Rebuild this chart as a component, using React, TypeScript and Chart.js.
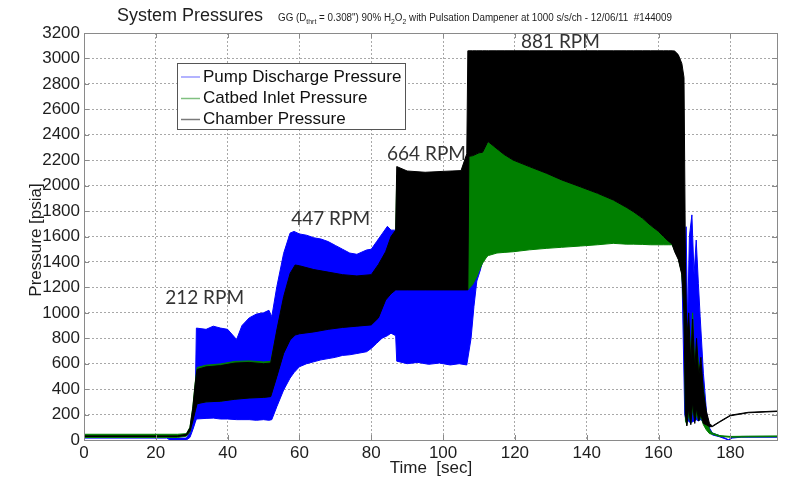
import React, { useEffect, useRef } from "react";
import { Chart, registerables } from "chart.js";

Chart.register(...registerables);

// ---------- data ----------
const xTicks = [0, 20, 40, 60, 80, 100, 120, 140, 160, 180];
const yTicks = [0, 200, 400, 600, 800, 1000, 1200, 1400, 1600, 1800, 2000, 2200, 2400, 2600, 2800, 3000, 3200];

const seriesNames = ["Pump Discharge Pressure", "Catbed Inlet Pressure", "Chamber Pressure"];

// Pump discharge pressure envelope (max / min of the oscillating signal)
const pumpTime = [0, 23, 24, 28.5, 29.5, 30.3, 31.0, 31.3, 34, 36, 38, 40, 42.5, 44, 46, 48, 50, 51.5, 52.3, 53.7, 55.6, 57.4, 58.5, 60, 62, 64, 66, 68, 70, 72, 74, 76, 78.7, 80, 81.5, 83, 84.5, 85.5, 86.8, 87.1, 90, 93, 96, 99, 102, 104.5, 106.6, 107.8, 108.6, 109.4, 110.2, 113, 120, 130, 140, 150, 158, 161, 163, 165, 166.5, 167.3, 167.7, 168.1, 168.6, 169.3, 169.9, 170.5, 171.1, 171.6, 172.5, 173.4, 174.3, 175, 177, 179.5, 180.5, 183, 193];
const pumpHigh = [22, 22, 15, 15, 60, 180, 350, 880, 870, 895, 880, 870, 790, 900, 960, 990, 1000, 1020, 970, 1205, 1468, 1627, 1640, 1620, 1610, 1590, 1580, 1560, 1530, 1500, 1470, 1460, 1494, 1500, 1560, 1620, 1680, 1650, 1650, 1180, 1180, 1180, 1180, 1180, 1180, 1180, 1180, 1230, 1260, 1284, 1330, 1900, 1900, 1900, 1800, 1700, 1600, 1580, 1600, 1800, 2000, 1300, 1677, 900, 1600, 1770, 1300, 1572, 1232, 970, 525, 210, 90, 55, 35, 2, 22, 28, 28];
const pumpLow = [15, 15, 0, 0, 20, 80, 140, 165, 170, 172, 165, 165, 160, 160, 160, 155, 160, 155, 160, 262, 393, 487, 530, 576, 600, 615, 630, 640, 650, 665, 670, 680, 694, 720, 760, 800, 820, 840, 820, 620, 600, 610, 595, 605, 590, 600, 590, 800, 1050, 1250, 1320, 1600, 1600, 1600, 1600, 1600, 1580, 1560, 1560, 1500, 1350, 200, 150, 160, 140, 140, 150, 160, 150, 160, 150, 110, 60, 40, 25, 0, 15, 22, 22];

// Catbed inlet and chamber pressure envelopes share one time base
const ccTime = [0, 26, 28.5, 29.5, 30.3, 31, 31.5, 34, 38, 42, 46, 50, 52, 53.7, 55.6, 57.4, 58.8, 60, 64, 68, 72, 76, 80, 82, 84, 85.5, 86.8, 87.1, 90, 95, 100, 105, 106.6, 106.9, 107.2, 108.2, 109.4, 110, 111, 112.2, 112.6, 115, 117, 119.5, 124, 128.9, 133, 138.2, 143, 147.4, 151, 153, 155.5, 157.7, 160, 161.4, 162.7, 163.8, 164.5, 165.5, 166.5, 167.1, 167.5, 167.9, 168.4, 169, 169.5, 170.1, 170.6, 171.2, 171.8, 172.5, 173.3, 174.2, 175, 177, 180, 185, 193];
const catbedHigh = [45, 45, 50, 100, 260, 460, 570, 588, 598, 618, 622, 614, 618, 850, 1100, 1290, 1360, 1350, 1320, 1300, 1280, 1270, 1280, 1350, 1450, 1570, 1620, 2080, 2080, 2070, 2075, 2080, 2200, 2227, 2230, 2235, 2250, 2258, 2262, 2330, 2345, 2290, 2245, 2201, 2150, 2096, 2045, 1991, 1940, 1887, 1830, 1795, 1745, 1690, 1640, 1600, 1565, 1540, 1500, 1440, 1320, 1050, 1100, 700, 900, 700, 1000, 600, 750, 600, 550, 400, 200, 80, 55, 35, 28, 30, 32];
const catbedLow = [20, 20, 30, 60, 160, 240, 290, 300, 305, 322, 332, 336, 348, 510, 690, 800, 840, 850, 865, 880, 895, 905, 915, 970, 1110, 1160, 1190, 1200, 1200, 1200, 1200, 1200, 1200, 1180, 1190, 1220, 1284, 1330, 1390, 1441, 1450, 1470, 1475, 1480, 1495, 1507, 1515, 1525, 1535, 1546, 1540, 1540, 1538, 1535, 1535, 1535, 1535, 1535, 1490, 1430, 1310, 1020, 150, 120, 200, 130, 250, 150, 200, 150, 180, 120, 80, 50, 45, 28, 22, 24, 26];
const chamberHigh = [32, 32, 45, 95, 250, 450, 555, 575, 585, 605, 610, 600, 605, 865, 1127, 1310, 1376, 1370, 1340, 1320, 1300, 1290, 1300, 1380, 1480, 1600, 1650, 2150, 2115, 2105, 2112, 2118, 2250, 3060, 3060, 3060, 3060, 3060, 3060, 3060, 3060, 3060, 3060, 3060, 3060, 3060, 3060, 3060, 3060, 3060, 3060, 3060, 3060, 3060, 3060, 3060, 3060, 3060, 3058, 3030, 2960, 2850, 1400, 800, 1000, 600, 950, 550, 800, 500, 650, 380, 230, 130, 110, 145, 195, 218, 228];
const chamberLow = [28, 28, 35, 70, 150, 230, 285, 300, 305, 320, 330, 335, 341, 498, 681, 786, 825, 835, 850, 870, 885, 895, 905, 960, 1100, 1150, 1180, 1180, 1180, 1180, 1180, 1180, 1180, 1180, 2230, 2235, 2250, 2258, 2262, 2330, 2345, 2290, 2245, 2201, 2150, 2096, 2045, 1991, 1940, 1887, 1830, 1795, 1745, 1690, 1640, 1600, 1565, 1540, 1480, 1420, 1300, 1000, 200, 110, 250, 120, 300, 130, 250, 150, 200, 130, 120, 105, 105, 140, 190, 214, 224];

// RPM annotations (text start at time / pressure)
const rpmLabels = ["212 RPM", "447 RPM", "664 RPM", "881 RPM"];
const rpmTime = [22.6, 57.7, 84.4, 121.7];
const rpmPressure = [1116, 1737, 2248, 3129];

// ---------- styles ----------
const FONT = '"Liberation Sans", Arial, Helvetica, sans-serif';
const BLUE = "#0000ff";
const GREEN = "#007f00";
const BLACK = "#000000";
const GRID = "#a8a8a8";
const TEXT = "#1e1e1e";

const pts = (t: number[], v: number[]) => t.map((x, i) => ({ x, y: v[i] }));

const band = (color: string, fill: boolean | string, order: number, data: any) => ({
  data,
  borderColor: color,
  backgroundColor: color,
  borderWidth: 1,
  pointRadius: 0,
  tension: 0,
  fill,
  order,
});

const decor = {
  id: "decor",
  afterDraw(chart: any) {
    const { ctx, chartArea: a, scales } = chart;
    const xs = scales.x;
    const ys = scales.y;
    ctx.save();
    ctx.setLineDash([]);
    // frame
    ctx.strokeStyle = "#8a8a8a";
    ctx.lineWidth = 1;
    ctx.strokeRect(Math.round(a.left) + 0.5, Math.round(a.top) + 0.5, Math.round(a.width), Math.round(a.height));
    // inward tick marks
    ctx.beginPath();
    xTicks.forEach((v) => {
      const px = Math.round(xs.getPixelForValue(v)) + 0.5;
      ctx.moveTo(px, a.bottom);
      ctx.lineTo(px, a.bottom - 5);
      ctx.moveTo(px, a.top);
      ctx.lineTo(px, a.top + 5);
    });
    yTicks.forEach((v) => {
      const py = Math.round(ys.getPixelForValue(v)) + 0.5;
      ctx.moveTo(a.left, py);
      ctx.lineTo(a.left + 5, py);
      ctx.moveTo(a.right, py);
      ctx.lineTo(a.right - 5, py);
    });
    ctx.stroke();

    // title
    ctx.fillStyle = TEXT;
    ctx.textBaseline = "alphabetic";
    ctx.textAlign = "left";
    ctx.font = `18px ${FONT}`;
    ctx.fillText("System Pressures", 117, 21);

    // subtitle with subscripts, fitted to its width
    const parts: [string, boolean][] = [
      ["GG (D", false],
      ["thrt", true],
      [' = 0.308") 90% H', false],
      ["2", true],
      ["O", false],
      ["2", true],
      [" with Pulsation Dampener at 1000 s/s/ch - 12/06/11  #144009", false],
    ];
    const mainF = `10px ${FONT}`;
    const subF = `7px ${FONT}`;
    let total = 0;
    parts.forEach(([s, sub]) => {
      ctx.font = sub ? subF : mainF;
      total += ctx.measureText(s).width;
    });
    const sx = 394 / total;
    ctx.save();
    ctx.translate(278, 21);
    ctx.scale(sx, 1);
    let cx = 0;
    parts.forEach(([s, sub]) => {
      ctx.font = sub ? subF : mainF;
      ctx.fillText(s, cx, sub ? 2.5 : 0);
      cx += ctx.measureText(s).width;
    });
    ctx.restore();

    // axis titles
    ctx.font = `17px ${FONT}`;
    ctx.textAlign = "center";
    ctx.textBaseline = "middle";
    ctx.fillText("Time  [sec]", 431, 468);
    ctx.save();
    ctx.translate(36, 240);
    ctx.rotate(-Math.PI / 2);
    ctx.fillText("Pressure [psia]", 0, 0);
    ctx.restore();

    // legend
    const lx = 177, ly = 63, lw = 228, lh = 66;
    ctx.fillStyle = "#ffffff";
    ctx.fillRect(lx, ly, lw, lh);
    ctx.strokeStyle = "#555555";
    ctx.strokeRect(lx + 0.5, ly + 0.5, lw, lh);
    const swatch = ["#9a9aff", "#80c080", "#7a7a7a"];
    const rows = [77, 98.5, 119.5];
    ctx.textAlign = "left";
    ctx.textBaseline = "middle";
    ctx.font = `17px ${FONT}`;
    seriesNames.forEach((name, i) => {
      ctx.strokeStyle = swatch[i];
      ctx.lineWidth = 1.5;
      ctx.beginPath();
      ctx.moveTo(181, rows[i]);
      ctx.lineTo(200, rows[i]);
      ctx.stroke();
      ctx.fillStyle = "#111111";
      ctx.fillText(name, 203, rows[i]);
    });

    // RPM annotations
    ctx.fillStyle = "#333333";
    ctx.font = `19px Lato, "Open Sans", sans-serif`;
    ctx.textAlign = "left";
    ctx.textBaseline = "middle";
    rpmLabels.forEach((lab, i) => {
      ctx.fillText(lab, xs.getPixelForValue(rpmTime[i]), ys.getPixelForValue(rpmPressure[i]));
    });
    ctx.restore();
  },
};

export default function App() {
  const ref = useRef<HTMLCanvasElement>(null);
  useEffect(() => {
    const chart = new Chart(ref.current as HTMLCanvasElement, {
      type: "line",
      data: {
        datasets: [
          band(BLUE, false, 6, pts(pumpTime, pumpLow)),
          band(BLUE, "-1", 5, pts(pumpTime, pumpHigh)),
          band(GREEN, false, 4, pts(ccTime, catbedLow)),
          band(GREEN, "-1", 3, pts(ccTime, catbedHigh)),
          band(BLACK, false, 2, pts(ccTime, chamberLow)),
          band(BLACK, "-1", 1, pts(ccTime, chamberHigh)),
        ] as any,
      },
      options: {
        responsive: false,
        devicePixelRatio: 1,
        animation: false,
        events: [],
        layout: { padding: { left: 0, top: 33, right: 11, bottom: 0 } },
        plugins: {
          legend: { display: false },
          tooltip: { enabled: false },
          title: { display: false },
        },
        scales: {
          x: {
            type: "linear",
            min: 0,
            max: 193,
            afterBuildTicks: (axis: any) => {
              axis.ticks = xTicks.map((v) => ({ value: v }));
            },
            afterFit: (s: any) => {
              s.height = 55;
            },
            ticks: {
              autoSkip: false,
              maxRotation: 0,
              padding: 3,
              color: TEXT,
              font: { family: FONT, size: 17 },
              callback: (v: any) => String(v),
            },
            grid: { color: GRID, lineWidth: 1, drawTicks: false },
            border: { display: false, dash: [2, 2] },
          },
          y: {
            type: "linear",
            min: 0,
            max: 3200,
            afterBuildTicks: (axis: any) => {
              axis.ticks = yTicks.map((v) => ({ value: v }));
            },
            afterFit: (s: any) => {
              s.width = 84;
            },
            ticks: {
              autoSkip: false,
              padding: 4,
              color: TEXT,
              font: { family: FONT, size: 17 },
              callback: (v: any) => String(v),
            },
            grid: { color: GRID, lineWidth: 1, drawTicks: false },
            border: { display: false, dash: [2, 2] },
          },
        },
      },
      plugins: [decor],
    } as any);
    return () => chart.destroy();
  }, []);

  return (
    <div style={{ position: "absolute", left: 0, top: 0, width: 788, height: 495, background: "#fff" }}>
      <canvas ref={ref} width={788} height={495} style={{ display: "block" }} />
    </div>
  );
}
